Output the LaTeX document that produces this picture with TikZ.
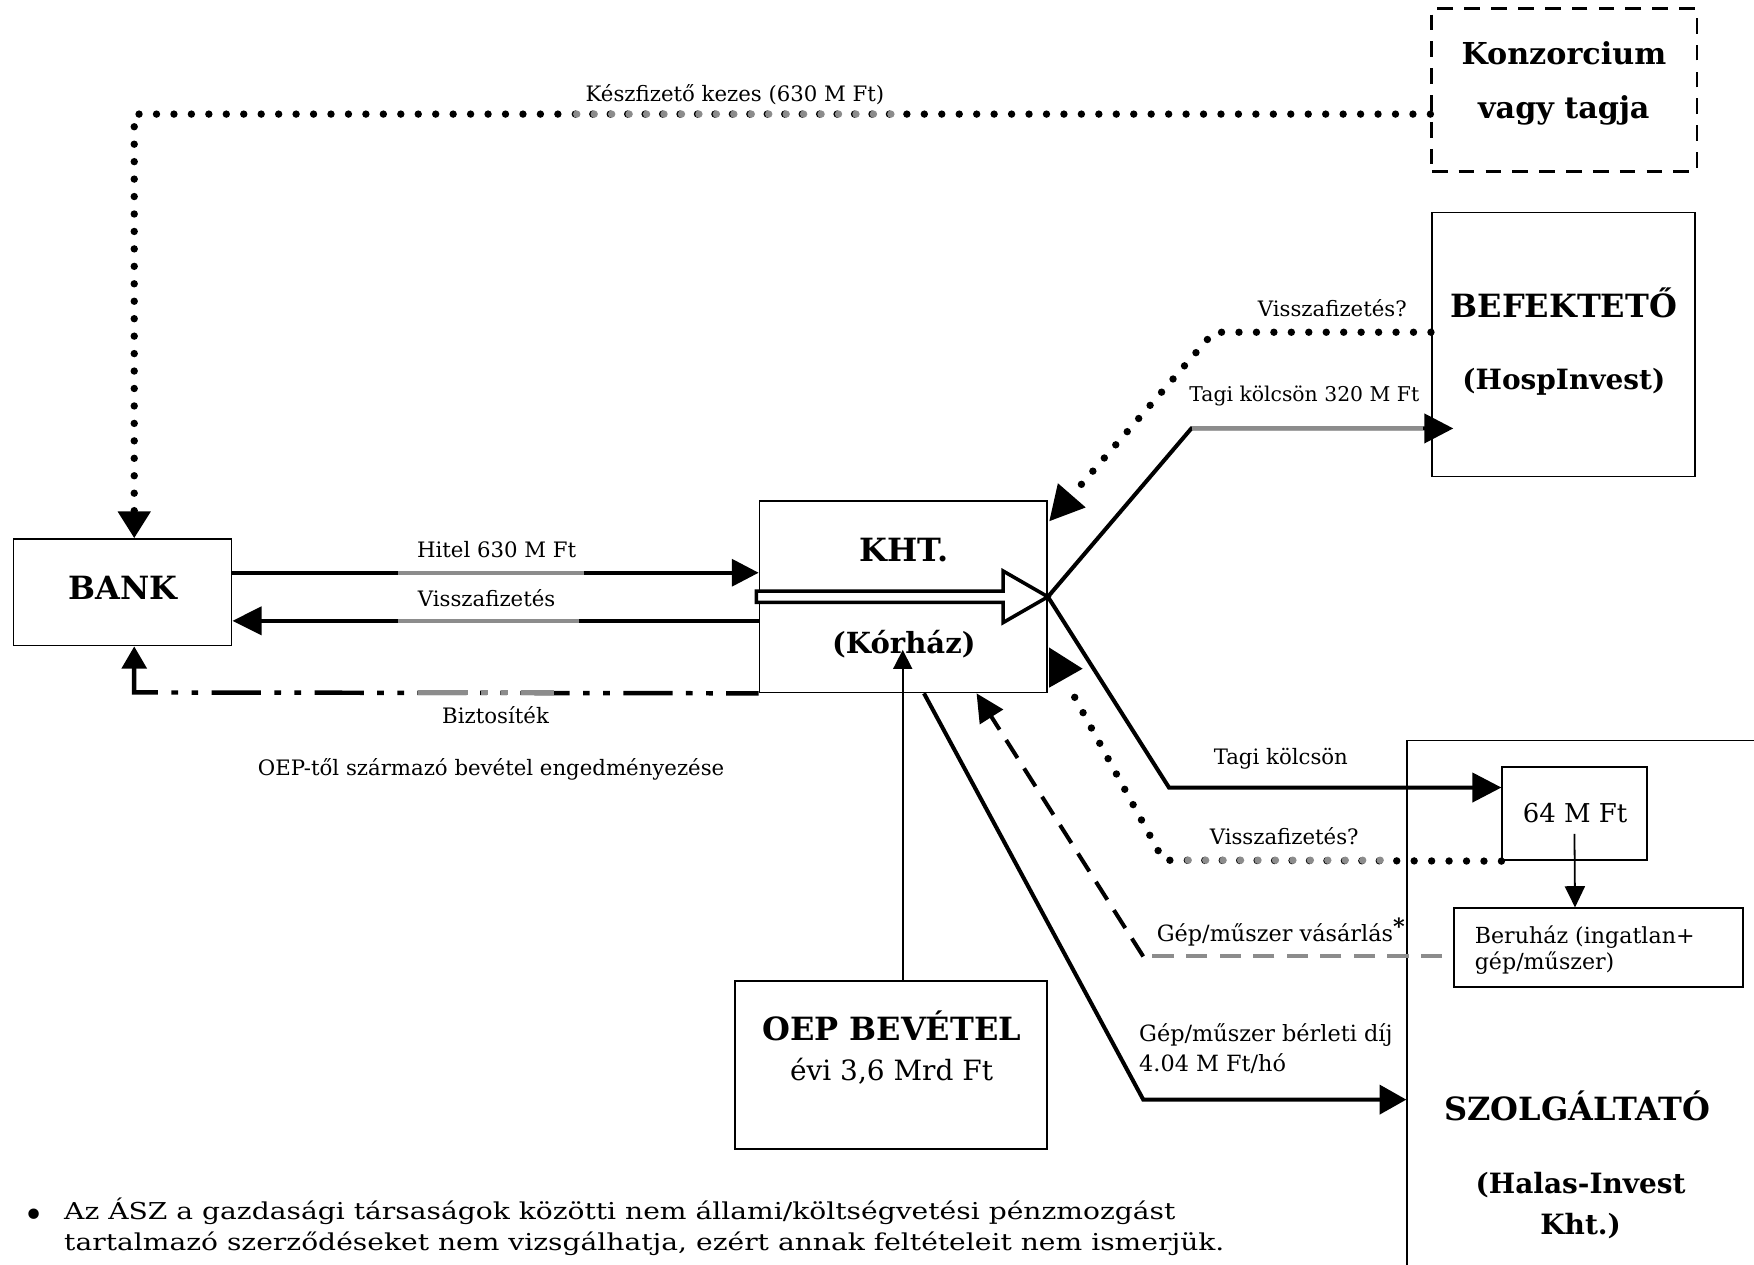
\documentclass[tikz,border=0pt]{standalone}
\usepackage{fontspec}
\setmainfont{DejaVu Serif}
\newfontfamily\fnfont[FakeStretch=1.21]{DejaVu Serif}
\usetikzlibrary{arrows.meta,calc}
\begin{document}
\begin{tikzpicture}[x=0.5pt,y=-0.5pt,
  box/.style={draw, line width=0.8pt, inner sep=0pt},
  conn/.style={line width=1.8pt, line join=miter},
  dotl/.style={line width=3.3pt, line cap=round, dash pattern=on 0pt off 7.8pt},
  dashl/.style={line width=1.8pt, dash pattern=on 9.5pt off 5.5pt},
  ddotl/.style={line width=2pt, dash pattern=on 22pt off 6pt on 3pt off 6pt on 3pt off 6pt, dash phase=7.5pt},
  lbl/.style={inner sep=0pt, anchor=base, font=\fontsize{9.5}{11}\selectfont},
  lblw/.style={inner sep=0pt, anchor=base west, font=\fontsize{10}{12}\selectfont},
  ttl/.style={inner sep=0pt, anchor=base, font=\fontsize{#1}{#1}\selectfont\bfseries},
  txt/.style={inner sep=0pt, anchor=base, font=\fontsize{#1}{#1}\selectfont},
  fn/.style={inner sep=0pt, anchor=base west, font=\fnfont\fontsize{10.4}{14}\selectfont},
  tipA/.style={-{Triangle[length=12pt,width=12pt]}},
  tipT/.style={-{Triangle[length=13pt,width=13pt]}},
  tipS/.style={-{Triangle[length=8.5pt,width=8.5pt]}},
  ]
\useasboundingbox (0,0) rectangle (1568,1130);

% ---------- boxes ----------
\node[box, minimum width=171pt, minimum height=249pt] (szolg) at (1429,911) {};
\node[box, dash pattern=on 7pt off 5pt, line width=1.3pt, minimum width=118.5pt, minimum height=72.5pt] (konz) at (1398.5,80.5) {};
\node[box, minimum width=117.5pt, minimum height=118pt] (bef) at (1397.5,308) {};
\node[box, minimum width=97.5pt, minimum height=47.5pt] (bank) at (109.5,529.5) {};
\node[box, minimum width=128.5pt, minimum height=85.5pt] (kht) at (807.5,533.5) {};
\node[box, minimum width=139.5pt, minimum height=75pt] (oep) at (796.5,952) {};
\node[box, minimum width=64.5pt, minimum height=41.5pt] (m64) at (1407.5,727.5) {};
\node[box, minimum width=129pt, minimum height=35pt] (ber) at (1429,847) {};

% ---------- box texts ----------
\node[ttl=13.5] (tkonz1) at (1398,58) {Konzorcium};
\node[ttl=13.5] (tkonz2) at (1398,106) {vagy tagja};
\node[ttl=14.3] (tbef1) at (1398,284) {BEFEKTETŐ};
\node[ttl=12.5] (tbef2) at (1398,348) {(HospInvest)};
\node[ttl=14.3] (tbank) at (110,536) {BANK};
\node[ttl=14.3] (tkht1) at (808,502) {KHT.};
\node[ttl=13] (tkht2) at (808,584) {(Kórház)};
\node[ttl=14.3] (toep1) at (797,930) {OEP BEVÉTEL};
\node[txt=12.5] (toep2) at (797,966) {évi 3,6 Mrd Ft};
\node[txt=11.6] (tm64) at (1408,735) {64 M Ft};
\node[inner sep=0pt, anchor=base west, font=\fontsize{9.9}{11}\selectfont] (tber1) at (1318,843) {Beruház (ingatlan+};
\node[inner sep=0pt, anchor=base west, font=\fontsize{9.9}{11}\selectfont] (tber2) at (1318,867) {gép/műszer)};
\node[ttl=14.3] (tsz1) at (1410,1002) {SZOLGÁLTATÓ};
\node[ttl=12.5] (tsz2) at (1413,1067) {(Halas-Invest};
\node[ttl=12.5] (tsz3) at (1413,1104) {Kht.)};

% ---------- connector labels ----------
\node[lbl] (l1) at (657,91) {Készfizető kezes (630 M Ft)};
\node[lbl] (l2) at (444,498) {Hitel 630 M Ft};
\node[lbl] (l3) at (435,542) {Visszafizetés};
\node[lbl] (l4) at (443,647) {Biztosíték};
\node[lbl] (l5) at (439,693) {OEP-től származó bevétel engedményezése};
\node[lbl] (l6) at (1191,283) {Visszafizetés?};
\node[lbl, font=\fontsize{9.1}{11}\selectfont] (l7) at (1166,359) {Tagi kölcsön 320 M Ft};
\node[lbl] (l8) at (1145,683) {Tagi kölcsön};
\node[lbl] (l9) at (1148,755) {Visszafizetés?};
\node[lbl, font=\fontsize{10}{12}\selectfont] (l10) at (1145,842) {Gép/műszer vásárlás\raisebox{3.5pt}{\textbf{*}}};
\node[lblw] (l11) at (1018,931) {Gép/műszer bérleti díj};
\node[lblw] (l12) at (1018,958) {4.04 M Ft/hó};

% ---------- footnote ----------
\node[inner sep=0pt, anchor=center, font=\fontsize{16}{16}\selectfont] (bul) at (30,1089) {\textbullet};
\node[fn] (fn) at (57,1090) {\vtop{\baselineskip=14pt
  \hbox{Az ÁSZ a gazdasági társaságok közötti nem állami/költségvetési pénzmozgást}
  \hbox{tartalmazó szerződéseket nem vizsgálhatja, ezért annak feltételeit nem ismerjük.}}};

% ---------- connectors ----------
% Készfizető kezes
\draw[dotl, -{Triangle[length=12pt,width=14pt]}] (konz.west |- 0,102) -- (120,102) -- (bank.north -| 120,0);
\draw[dotl, black!45] (796.4,102) -- (508,102);

% Hitel / Visszafizetés
\draw[conn, tipA] (bank.east |- 0,512) -- (kht.west |- 0,512);
\draw[conn, black!45] (356,512) -- (522,512);
\draw[conn, -{Triangle[length=13pt,width=12.5pt]}] (kht.west |- 0,555) -- (bank.east |- 0,555);
\draw[conn, black!45] (356,555) -- (518,555);

% Biztosíték
\draw[ddotl, -{Triangle[length=10pt,width=11pt]}] (kht.south west) -- (120,619) -- (bank.south -| 120,0);
\draw[ddotl, black!45] (495,619) -- (371,619);

% open arrow inside KHT
\draw[line width=1.6pt, line join=miter, fill=white]
  ($(kht.west)+(-2,-5)$) -- ($(kht.east)+(-40,-5)$) -- ($(kht.east)+(-40,-23)$) -- (kht.east)
  -- ($(kht.east)+(-40,23)$) -- ($(kht.east)+(-40,5)$) -- ($(kht.west)+(-2,5)$) -- cycle;

% upper Visszafizetés?
\draw[dotl, -{Triangle[length=15.5pt,width=15.5pt]}] (bef.west |- 0,297) -- (1085,297) -- ($(kht.north east)+(1,19)$);

% Tagi kölcsön 320 M Ft
\coordinate (t320) at ($(bef.west |- 0,383)+(20,0)$);
\draw[conn, tipT] (kht.east) -- (1065,383) -- (t320);
\draw[conn, black!45] (1066,383) -- (1272,383);

% Tagi kölcsön (lower)
\draw[conn, tipT] (kht.east) -- (1045,704) -- (m64.west |- 0,704);

% lower Visszafizetés?
\coordinate (vz2) at (960,622);
\draw[dotl] (m64.south west) -- (1040,769) -- (vz2);
\draw[dotl, black!45] (1233.8,769) -- (1058,769);
\fill ($(kht.south east)+(1,-41)$) -- ($(kht.south east)+(31,-22)$) -- ($(kht.south east)+(1,-5)$) -- cycle;

% Gép/műszer vásárlás
\coordinate (gk) at (1022,855);
\draw[dashl, black!45] ($(ber.west |- 0,855)+(-10,0)$) -- (gk);
\draw[dashl, -{Triangle[length=12.5pt,width=12pt]}] (gk) -- (kht.south -| 873,0);

% bérleti díj
\draw[conn, -{Triangle[length=12pt,width=13pt]}] (kht.south -| 826,0) -- (1022,983) -- (szolg.west |- 0,983);

% OEP -> KHT
\draw[line width=0.8pt, tipS] (oep.north -| 807,0) -- (807,581);

% 64 M Ft -> Beruház
\draw[line width=0.8pt, -{Triangle[length=9.5pt,width=9pt]}] ($(m64.center)+(0,18)$) -- (ber.north -| 1408,0);
\end{tikzpicture}
\end{document}
